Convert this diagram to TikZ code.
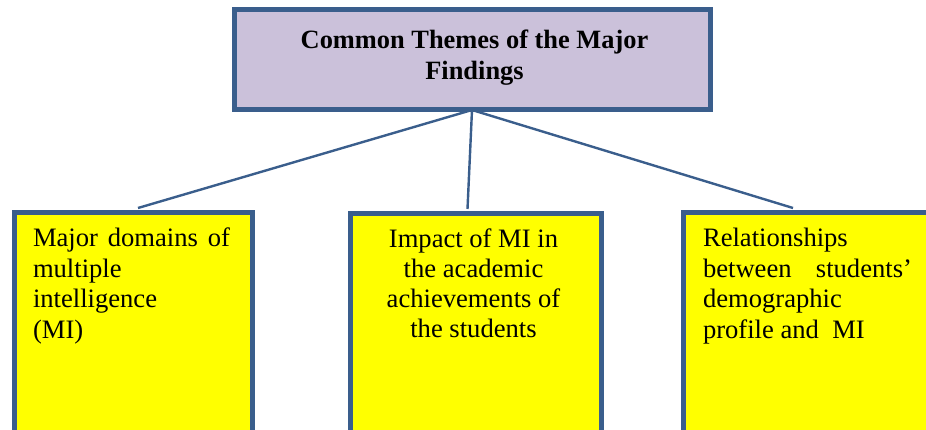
\documentclass[tikz,border=0pt]{standalone}
\usepackage{fontspec}
\setmainfont{Liberation Serif}
\definecolor{edgeblue}{HTML}{3A5E8C}
\definecolor{themefill}{HTML}{CBC1DA}
\definecolor{boxyellow}{HTML}{FFFF00}
\begin{document}
\begin{tikzpicture}[x=1pt,y=-1pt,
  titlebox/.style={draw=edgeblue,line width=5pt,fill=themefill,rectangle,inner sep=0pt},
  findbox/.style={draw=edgeblue,line width=5pt,fill=boxyellow,rectangle,inner sep=0pt},
  link/.style={draw=edgeblue,line width=2.4pt},
  txt/.style={inner sep=0pt,outer sep=0pt}]
\useasboundingbox (0,0) rectangle (926,430);
\clip (0,0) rectangle (926,430);

% heading box
\node[titlebox,minimum width=476.5pt,minimum height=100pt] (top) at (472.25,60) {};
\node[txt,anchor=base] (toptext) at (474.5,49)
  {\parbox[t]{460pt}{\centering\fontsize{26.4pt}{31pt}\selectfont\bfseries
   Common Themes of the Major\\Findings}};

% the three finding boxes (they run on below the lower edge)
\node[findbox,minimum width=237.5pt,minimum height=260pt,anchor=north west] (left) at (12,210) {};
\node[findbox,minimum width=251.5pt,minimum height=260pt,anchor=north west] (mid) at (347.5,211) {};
\node[findbox,minimum width=320pt,minimum height=260pt,anchor=north west] (right) at (681,210) {};

% connectors from the heading to each box
\coordinate (hub) at (472,110);
\coordinate (lefttop) at (138,208);
\coordinate (midtop) at (467.5,209);
\coordinate (righttop) at (793,208);
\draw[link] (hub) -- (lefttop);
\draw[link] (hub) -- (midtop);
\draw[link] (hub) -- (righttop);

% box texts
\node[txt,anchor=base west] (lefttext) at (33,247)
  {\parbox[t]{215pt}{\fontsize{26.6pt}{30.4pt}\selectfont
   \makebox[197pt][s]{Major domains of}\\multiple\\intelligence\\(MI)}};
\node[txt,anchor=base] (midtext) at (473.5,248)
  {\parbox[t]{245pt}{\centering\fontsize{26.6pt}{30pt}\selectfont
   Impact of MI in\\the academic\\achievements of\\the students}};
\node[txt,anchor=base west] (righttext) at (703,247)
  {\parbox[t]{220pt}{\fontsize{26.6pt}{30.4pt}\selectfont
   Relationships\\\makebox[209pt][s]{between students’}\\demographic\\profile and\ \ MI}};
\end{tikzpicture}
\end{document}
